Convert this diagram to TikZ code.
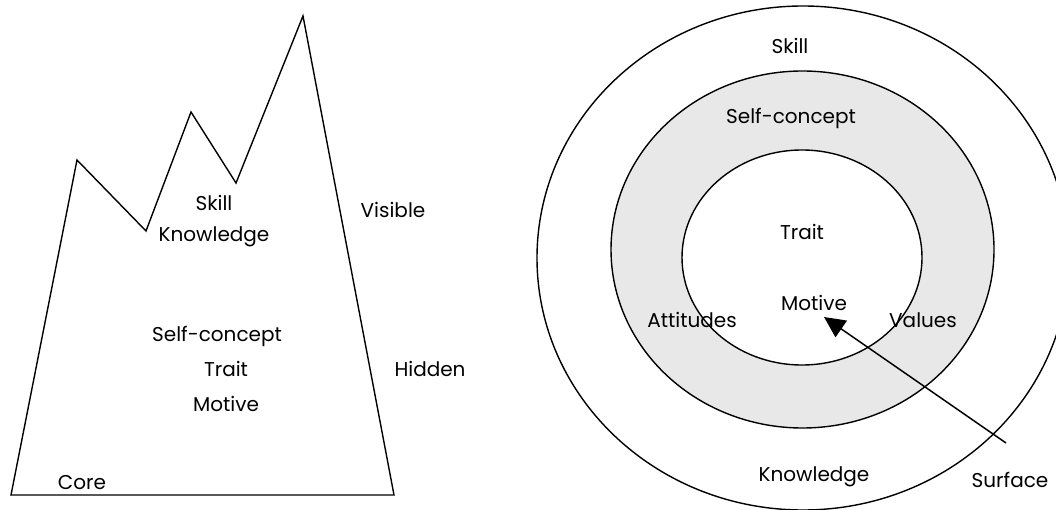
\documentclass[tikz,border=0pt]{standalone}
\usepackage{fontspec}
\setmainfont{Poppins}
\usetikzlibrary{arrows.meta}
\definecolor{ringgray}{HTML}{E8E8E8}
\tikzset{
  lbl/.style={inner sep=0pt, font=\fontsize{20}{24}\selectfont},
  edge/.style={line width=1.4pt, line join=miter},
}
\begin{document}
\begin{tikzpicture}[x=1pt,y=-1pt]
\useasboundingbox (0,0) rectangle (1056,510);
\clip (0,0) rectangle (1056,510);
% mountain
\coordinate (bl) at (11,495);
\coordinate (p1) at (77,160);
\coordinate (v1) at (146,231);
\coordinate (p2) at (191,112);
\coordinate (v2) at (236,183);
\coordinate (p3) at (303,16);
\coordinate (br) at (394,495);
\draw[edge] (bl) -- (p1) -- (v1) -- (p2) -- (v2) -- (p3) -- (br) -- cycle;
\node[lbl] (mskill) at (214,203) {Skill};
\node[lbl] (mknow) at (214,237) {Knowledge};
\node[lbl] (mvis) at (393,210) {Visible};
\node[lbl] (mself) at (217,336) {Self-concept};
\node[lbl] (mtrait) at (226,369) {Trait};
\node[lbl] (mmot) at (226,404) {Motive};
\node[lbl] (mhid) at (430,369) {Hidden};
\node[lbl] (mcore) at (82,483) {Core};
% rings
\draw[edge] (803,258) ellipse [x radius=266, y radius=252];
\draw[edge, fill=ringgray] (802.5,249.5) ellipse [x radius=191.5, y radius=178.5];
\draw[edge, fill=white] (802,257.5) ellipse [x radius=120, y radius=107.5];
\node[lbl] (cskill) at (790,46) {Skill};
\node[lbl] (cself) at (791,118) {Self-concept};
\node[lbl] (ctrait) at (802,232) {Trait};
\node[lbl] (cmot) at (814,303) {Motive};
\node[lbl] (catt) at (692,320) {Attitudes};
\node[lbl] (cval) at (923,320) {Values};
\node[lbl] (cknow) at (814,477) {Knowledge};
\node[lbl] (csurf) at (1010,480) {Surface};
\coordinate (tail) at (1006,443);
\coordinate (tip) at (824,317);
\draw[line width=1.5pt, -{Triangle[length=21pt,width=20pt]}] (tail) -- (tip);
\end{tikzpicture}
\end{document}
